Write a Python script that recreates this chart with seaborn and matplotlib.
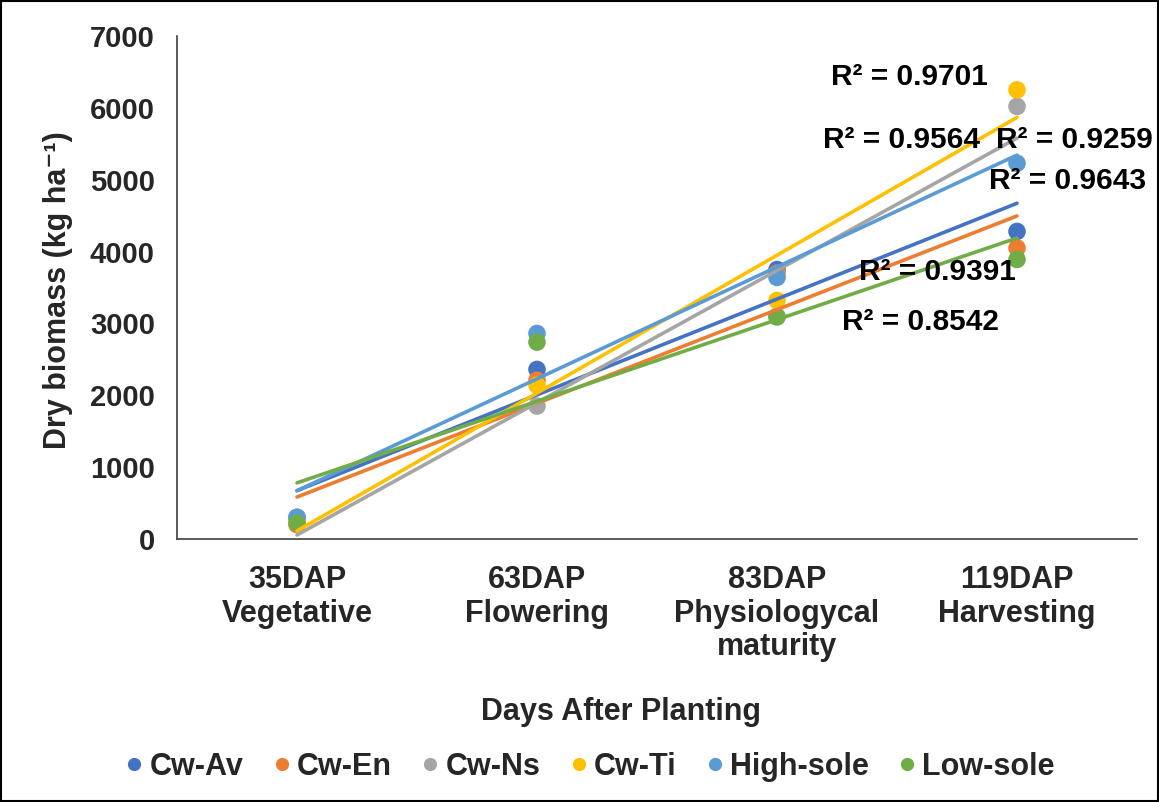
import numpy as np
import pandas as pd
import matplotlib
matplotlib.use("Agg")
import matplotlib.pyplot as plt
import seaborn as sns
from matplotlib.patches import Rectangle
from matplotlib.lines import Line2D
from matplotlib.ticker import FixedLocator

# ---- data ----
stages = ["35DAP\nVegetative", "63DAP\nFlowering", "83DAP\nPhysiologycal\nmaturity", "119DAP\nHarvesting"]
series_names = ["Cw-Av", "Cw-En", "Cw-Ns", "Cw-Ti", "High-sole", "Low-sole"]
cw_av = [300, 2360, 3750, 4280]
cw_en = [200, 2210, 3700, 4050]
cw_ns = [300, 1850, 3100, 6020]
cw_ti = [250, 2140, 3320, 6250]
high_sole = [300, 2860, 3640, 5230]
low_sole = [220, 2740, 3090, 3890]
colors = ["#4472C4", "#ED7D31", "#A5A5A5", "#FFC000", "#5B9BD5", "#70AD47"]
r2_labels = ["R² = 0.9701", "R² = 0.9564", "R² = 0.9259", "R² = 0.9643", "R² = 0.9391", "R² = 0.8542"]
r2_x = [2.55, 2.52, 3.24, 3.21, 2.67, 2.60]
r2_y = [6430, 5553, 5553, 4980, 3716, 3020]

values = [cw_av, cw_en, cw_ns, cw_ti, high_sole, low_sole]
rows = []
for name, vals in zip(series_names, values):
    for i, v in enumerate(vals):
        rows.append({"series": name, "x": i, "y": v})
df = pd.DataFrame(rows)

sns.set_style("white")
plt.rcParams["font.family"] = ["Liberation Sans", "DejaVu Sans"]
plt.rcParams["font.weight"] = "bold"

fig = plt.figure(figsize=(11.59, 8.02), dpi=100)
ax = fig.add_axes([177/1159, 1-539/802, (1137-177)/1159, (539-36)/802])

palette = dict(zip(series_names, colors))
sns.scatterplot(data=df, x="x", y="y", hue="series", palette=palette, s=160,
                edgecolor="none", ax=ax, legend=False, zorder=3)
for name in series_names:
    sub = df[df["series"] == name]
    sns.regplot(data=sub, x="x", y="y", ci=None, scatter=False, truncate=True,
                color=palette[name], line_kws={"lw": 2.6, "zorder": 4}, ax=ax)

for t, xx, yy in zip(r2_labels, r2_x, r2_y):
    ax.text(xx, yy, t, ha="center", va="center", fontsize=21.5, fontweight="bold",
            color="black", zorder=6, clip_on=False)

ax.set_xlim(-0.5, 3.5)
ax.set_ylim(0, 7000)
ax.set_yticks(range(0, 7001, 1000))
ax.set_xticks(range(4))
ax.set_xticklabels(stages, fontsize=22, fontweight="bold", linespacing=1.15)
ax.xaxis.set_minor_locator(FixedLocator([-0.5, 0.5, 1.5, 2.5, 3.5]))
ax.tick_params(axis="x", which="major", length=0, pad=19)
ax.tick_params(axis="x", which="minor", length=8, width=1, color="#404040", direction="out")
ax.tick_params(axis="y", length=7, width=1, color="#404040", direction="out", labelsize=21, pad=9)
for lab in ax.get_yticklabels():
    lab.set_fontweight("bold")
ax.set_xlabel("")
ax.set_ylabel("")
for s in ["top", "right"]:
    ax.spines[s].set_visible(False)
for s in ["left", "bottom"]:
    ax.spines[s].set_color("#404040")
    ax.spines[s].set_linewidth(1.2)

fig.text(58/1159, 1-290/802, "Dry biomass (kg ha⁻¹)", rotation=90, ha="center", va="center",
         fontsize=22, fontweight="bold")
fig.text(621/1159, 1-712/802, "Days After Planting", ha="center", va="center",
         fontsize=22, fontweight="bold")

handles = [Line2D([0], [0], marker="o", linestyle="none", markersize=9.5,
                  markerfacecolor=c, markeredgecolor="none") for c in colors]
fig.legend(handles, series_names, loc="center", bbox_to_anchor=(590/1159, 1-767/802),
           ncol=6, frameon=False, handlelength=0.6, handletextpad=0.2, columnspacing=0.95,
           prop={"size": 22, "weight": "bold"})

fig.patches.append(Rectangle((0.001, 0.001), 0.998, 0.998, transform=fig.transFigure,
                             fill=False, edgecolor="black", lw=1.5))
fig.savefig("out.png", dpi=100)
